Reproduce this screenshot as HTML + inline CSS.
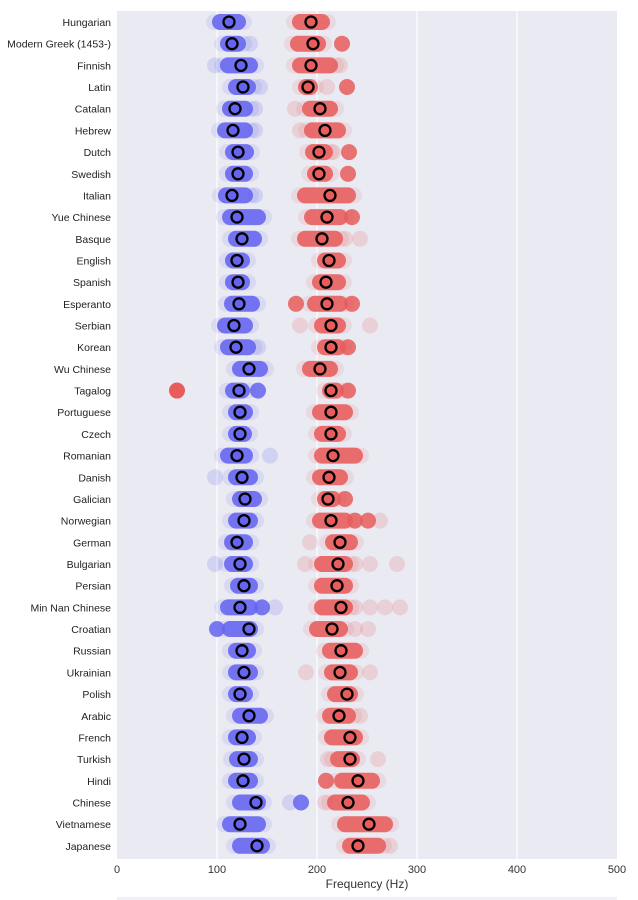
<!DOCTYPE html>
<html><head><meta charset="utf-8"><style>
body{margin:0;background:#fff;}
svg{display:block;font-family:"Liberation Sans",sans-serif;}
</style></head><body>
<svg id="s" width="638" height="900" xmlns="http://www.w3.org/2000/svg">
<rect x="117" y="11" width="500" height="848" fill="#eaeaf2"/>
<g stroke="#fff" stroke-width="1.2">
<line x1="217" y1="11" x2="217" y2="859"/><line x1="317" y1="11" x2="317" y2="859"/>
<line x1="417" y1="11" x2="417" y2="859"/><line x1="517" y1="11" x2="517" y2="859"/>
</g>
<g font-size="11" fill="#333" text-anchor="middle">
<text x="117" y="873">0</text><text x="217" y="873">100</text><text x="317" y="873">200</text>
<text x="417" y="873">300</text><text x="517" y="873">400</text><text x="617" y="873">500</text>
<text x="367" y="888" font-size="12">Frequency (Hz)</text>
</g>
<rect x="117" y="897" width="500" height="3" fill="#f0f0f5"/>
<g id="rows"></g>
</svg>
<script>
var D=[
["Hungarian",[220,238],[],229,[300,322],[],311],
["Modern Greek (1453-)",[228,238],[250],232,[298,318],[1342],313],
["Finnish",[228,250],[215],241,[300,330],[340],311],
["Latin",[236,248],[260],243,[306,310],[327,1347],308],
["Catalan",[230,245],[255],235,[310,330],[295],320],
["Hebrew",[225,245],[255],233,[312,338],[300],325],
["Dutch",[233,246],[],238,[313,325],[333,1349],319],
["Swedish",[233,245],[],238,[315,325],[1348],319],
["Italian",[226,245],[255],232,[305,348],[],330],
["Yue Chinese",[230,258],[],237,[312,340],[1352],327],
["Basque",[236,254],[],242,[305,335],[345,360],322],
["English",[233,242],[],237,[325,338],[],329],
["Spanish",[233,242],[],238,[320,338],[],326],
["Esperanto",[232,252],[],239,[315,340],[1296,1352],327],
["Serbian",[225,245],[],234,[322,338],[300,370],331],
["Korean",[228,248],[258],236,[325,338],[1348],331],
["Wu Chinese",[240,260],[],249,[310,330],[],320],
["Tagalog",[233,242],[1258],239,[330,336],[1348],331],
["Portuguese",[236,245],[],240,[320,345],[],331],
["Czech",[236,244],[],240,[322,338],[],331],
["Romanian",[228,245],[270],237,[322,355],[],333],
["Danish",[236,250],[215],242,[320,340],[],329],
["Galician",[240,254],[],245,[325,333],[1345],328],
["Norwegian",[236,250],[],244,[320,345],[1355,1368,380],331],
["German",[232,245],[],237,[333,350],[310],340],
["Bulgarian",[232,245],[215],240,[322,345],[305,355,370,397],338],
["Persian",[238,250],[],244,[322,345],[],337],
["Min Nan Chinese",[228,250],[1262,275],240,[322,345],[355,370,385,400],341],
["Croatian",[230,250],[1217],249,[317,340],[355,368],332],
["Russian",[236,248],[],242,[330,355],[],341],
["Ukrainian",[236,250],[],244,[332,350],[306,370],340],
["Polish",[236,245],[],240,[335,350],[],347],
["Arabic",[240,260],[],249,[330,348],[360],339],
["French",[236,248],[],242,[332,355],[],350],
["Turkish",[237,250],[],244,[338,352],[328,378],350],
["Hindi",[236,250],[],243,[342,372],[1326],358],
["Chinese",[240,258],[290,1301],256,[335,362],[325],348],
["Vietnamese",[230,258],[],240,[345,385],[],369],
["Japanese",[240,262],[],257,[350,378],[390],358]];
var g=document.getElementById('rows'),h='';
var B='#6464f0',R='#e85c5c';
D.forEach(function(d,i){
 var y=(22+i*21.68).toFixed(1);
 h+='<text x="111" y="'+(+y+4)+'" font-size="10.5" fill="#222" text-anchor="end">'+d[0]+'</text>';
 function grp(r,ex,m,c){
  var s='';
  ex.forEach(function(x){var op=0.18;if(x>1000){x-=1000;op=0.85;}s+='<circle cx="'+x+'" cy="'+y+'" r="8" fill="'+c+'" opacity="'+op+'"/>';});
  s+='<line x1="'+(r[0]-6)+'" y1="'+y+'" x2="'+(r[1]+6)+'" y2="'+y+'" stroke="'+c+'" stroke-opacity="0.12" stroke-width="16" stroke-linecap="round"/>';
  s+='<line x1="'+r[0]+'" y1="'+y+'" x2="'+r[1]+'" y2="'+y+'" stroke="'+c+'" stroke-opacity="0.88" stroke-width="16" stroke-linecap="round"/>';
  s+='<circle cx="'+m+'" cy="'+y+'" r="5.5" fill="'+c+'" stroke="#000" stroke-width="2.3"/>';
  return s;
 }
 h+=grp(d[1],d[2],d[3],B)+grp(d[4],d[5],d[6],R);
});
h+='<circle cx="177" cy="'+(22+17*21.68)+'" r="8" fill="'+R+'"/>';
g.innerHTML=h;
</script>
</body></html>
